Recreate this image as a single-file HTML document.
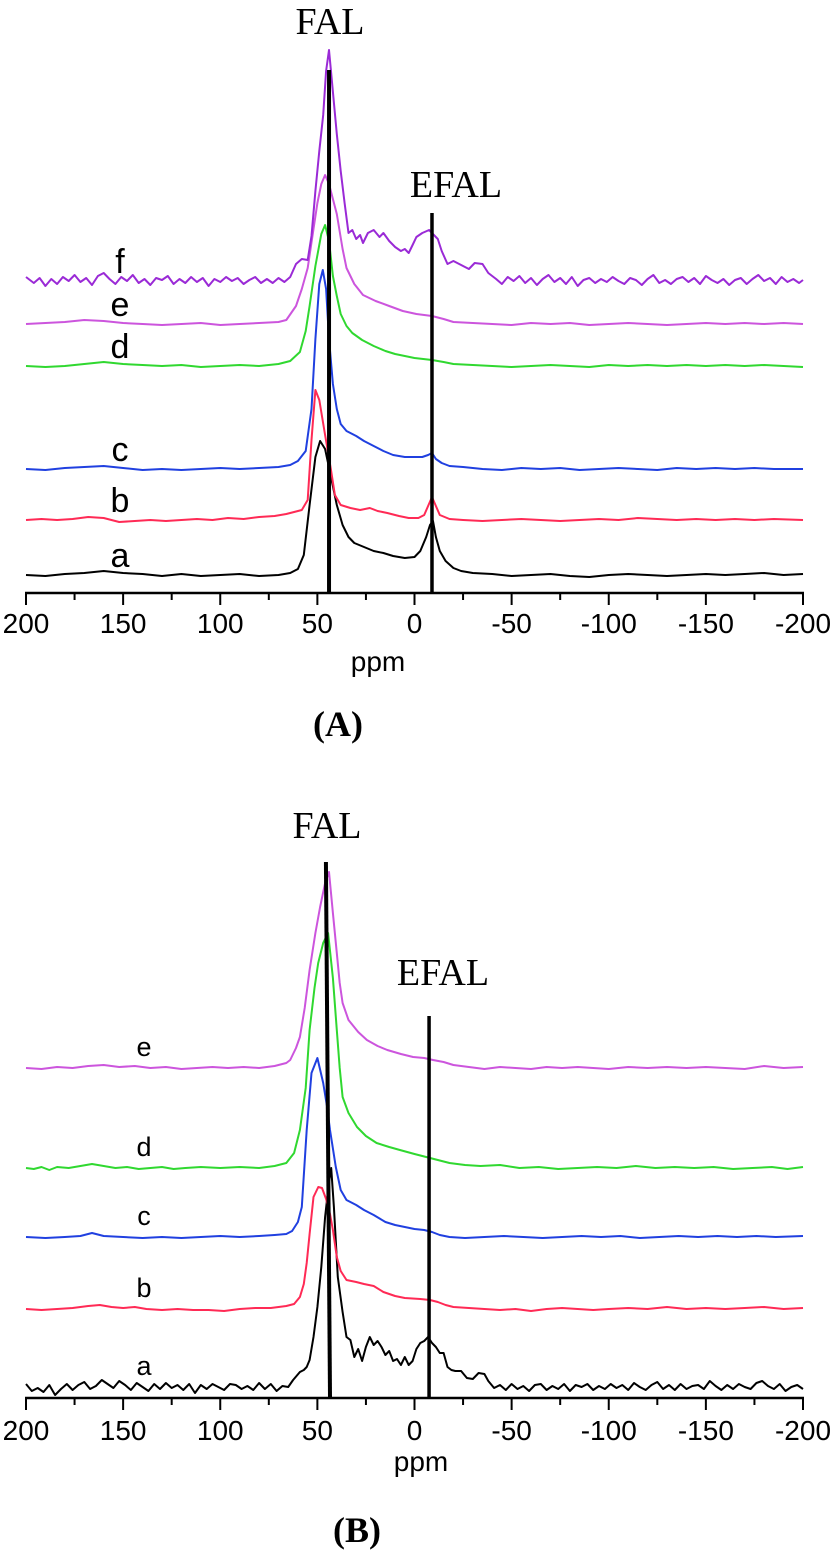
<!DOCTYPE html>
<html><head><meta charset="utf-8"><style>
html,body{margin:0;padding:0;background:#fff;}
svg{display:block;}
.tk{font-family:"Liberation Sans",sans-serif;font-size:28px;fill:#000;}
.lb{font-family:"Liberation Sans",sans-serif;fill:#000;}
.sf{font-family:"Liberation Serif",serif;fill:#000;}
</style></head><body>
<svg id="chart" width="832" height="1551" viewBox="0 0 832 1551">
<g id="panelA"></g>
<g id="panelB"></g>
<text class="sf" x="330" y="34" font-size="38" text-anchor="middle">FAL</text>
<text class="sf" x="456" y="197" font-size="38" text-anchor="middle">EFAL</text>
<text class="lb" x="378" y="671" font-size="28" text-anchor="middle">ppm</text>
<text class="sf" x="338" y="736" font-size="36" font-weight="bold" text-anchor="middle">(A)</text>
<text class="sf" x="327" y="838" font-size="38" text-anchor="middle">FAL</text>
<text class="sf" x="443" y="985" font-size="38" text-anchor="middle">EFAL</text>
<text class="lb" x="421" y="1471" font-size="28" text-anchor="middle">ppm</text>
<text class="sf" x="357" y="1542" font-size="36" font-weight="bold" text-anchor="middle">(B)</text>
</svg>
<script>
const tickValues = [200,150,100,50,0,-50,-100,-150,-200];
const minorTicks = [175,125,75,25,-25,-75,-125,-175];
const seriesNamesA = ["a","b","c","d","e","f"];
const seriesNamesB = ["a","b","c","d","e"];
const baselinesA = [575,520,469,366,324,281];
const baselinesB = [1387,1309,1237,1168,1068];
const linesA = [[44,44,70],[-9,-9,213]];
const linesB = [[45.6,43.5,862],[-7.5,-7.5,1016]];

const Aa = [[200,0],[190,-1],[180,1],[170,2],[160,4],[150,2],[140,1],[130,-1],[120,1],[110,-1],[100,0],[90,1],[80,-1],[70,0],[64,2],[60,6],[57,20],[54,70],[51,118],[48.6,134],[46,126],[43,98],[40,70],[37,50],[34,38],[31,32],[26,28],[21,24],[16,22],[11,19],[5,17],[0,18],[-3,24],[-6,38],[-8,50],[-9.5,54],[-11,38],[-13,24],[-16,14],[-20,7],[-24,4],[-30,2],[-40,1],[-50,-1],[-60,0],[-70,1],[-80,-1],[-90,-2],[-100,0],[-110,1],[-120,0],[-130,-1],[-140,0],[-150,1],[-160,0],[-170,1],[-180,2],[-190,0],[-200,1]];
const Ab = [[200,0],[192,1],[184,0],[176,1],[168,3],[160,2],[152,-2],[144,-1],[136,0],[128,-1],[120,0],[112,1],[104,0],[96,2],[88,1],[80,3],[72,4],[66,6],[62,8],[58,10],[55,20],[53,80],[51,130],[49,120],[46,85],[43,50],[41,25],[38,15],[33,12],[28,10],[23,12],[19,9],[14,7],[8,4],[3,2],[-2,2],[-5,5],[-7,14],[-9,23],[-11,14],[-13,5],[-18,1],[-25,0],[-35,-1],[-45,0],[-55,1],[-65,0],[-75,-1],[-85,0],[-95,1],[-105,0],[-115,2],[-125,1],[-135,0],[-145,1],[-155,0],[-165,1],[-175,0],[-185,1],[-200,0]];
const Ac = [[200,0],[190,-1],[180,1],[170,2],[160,3],[150,1],[140,-1],[130,0],[120,-1],[110,0],[100,1],[90,0],[80,1],[70,2],[64,4],[60,8],[56,18],[53,60],[51,130],[49,185],[47.2,199],[45.5,180],[44,130],[42,85],[40,60],[38,45],[35,38],[30,33],[26,28],[21,23],[16,18],[11,14],[5,12],[0,12],[-4,12],[-7,14],[-9,16],[-11,10],[-14,6],[-18,3],[-25,2],[-35,0],[-45,-1],[-55,1],[-65,0],[-75,1],[-85,-1],[-95,0],[-105,1],[-115,0],[-125,-1],[-135,1],[-145,0],[-155,1],[-165,0],[-175,1],[-185,0],[-200,0]];
const Ad = [[200,0],[190,-1],[180,0],[170,2],[160,4],[150,2],[140,1],[130,0],[120,1],[110,-1],[100,0],[90,1],[80,0],[70,2],[64,5],[59,14],[56,35],[54,60],[51,100],[48,132],[46,141],[44,125],[42,90],[40,70],[38,52],[35,40],[32,33],[27,26],[21,20],[15,15],[10,12],[5,10],[0,8],[-9,6],[-15,4],[-20,2],[-30,1],[-40,0],[-50,-1],[-60,0],[-70,1],[-80,0],[-90,-1],[-100,1],[-110,0],[-120,1],[-130,0],[-140,1],[-150,0],[-160,1],[-170,0],[-180,1],[-190,0],[-200,-1]];
const Ae = [[200,0],[190,1],[180,2],[170,4],[160,3],[150,1],[140,0],[130,-1],[120,0],[110,1],[100,-1],[90,0],[80,1],[70,2],[66,4],[61,18],[58,35],[55,56],[52,95],[50,121],[48,140],[46,149],[44,140],[42,125],[40,110],[37,75],[35,56],[31,40],[26.5,29],[20,23],[13,18],[6,13],[-1,10],[-9,8],[-15,5],[-20,2],[-30,1],[-40,0],[-50,-1],[-60,1],[-70,0],[-80,1],[-90,-1],[-100,0],[-110,1],[-120,0],[-130,-1],[-140,0],[-150,1],[-160,0],[-170,1],[-180,0],[-190,1],[-200,0]];
const Af = [[200,4],[196,-2],[193,3],[190,-5],[187,2],[184,-3],[181,4],[178,0],[175,6],[172,-1],[169,3],[166,-4],[163,5],[160,8],[157,2],[154,-3],[151,4],[148,0],[145,6],[142,-2],[139,2],[136,-4],[133,3],[130,1],[127,5],[124,-3],[121,2],[118,-2],[115,4],[112,-1],[109,3],[106,-5],[103,2],[100,-1],[97,4],[94,0],[91,3],[88,-3],[85,1],[82,4],[79,-2],[76,2],[73,-2],[70,3],[67,-1],[64,4],[61,17],[58,22],[55,21],[53,45],[51,90],[49,130],[47,166],[45.5,210],[44,231],[42.5,200],[40,147],[38,110],[36,78],[34,48],[32,51],[30,42],[28,46],[26.5,38],[24,48],[21,51],[18,44],[16,48],[13,40],[10,34],[7,30],[5,32],[3,28],[1,36],[-1,44],[-4,48],[-7.5,51],[-10,46],[-12,42],[-14,30],[-17,17],[-20,20],[-23,17],[-26,14],[-28,12],[-31,18],[-35,17],[-38,8],[-42,2],[-45,-3],[-48,4],[-51,0],[-54,5],[-57,-2],[-60,3],[-63,-4],[-66,2],[-69,6],[-72,-1],[-75,3],[-78,-3],[-81,4],[-84,-5],[-87,1],[-90,3],[-93,-2],[-96,2],[-99,-1],[-102,4],[-105,0],[-108,-3],[-111,3],[-114,1],[-117,-4],[-120,2],[-123,6],[-126,-2],[-129,1],[-132,-3],[-135,2],[-138,4],[-141,-1],[-144,3],[-147,-3],[-150,5],[-153,1],[-156,-2],[-159,2],[-162,-4],[-165,1],[-168,3],[-171,-3],[-174,2],[-177,6],[-180,0],[-183,3],[-186,-3],[-189,4],[-192,-1],[-195,2],[-198,-2],[-200,1]];

const Ba = [[200,3],[197,-4],[194,-1],[191,-5],[188,2],[185,-8],[182,-2],[179,3],[176,-3],[173,2],[170,5],[167,-2],[164,1],[161,7],[158,3],[155,-1],[152,6],[149,2],[146,-3],[143,4],[140,0],[137,-4],[134,3],[131,-2],[128,4],[125,-1],[122,2],[119,-3],[116,3],[113,-6],[110,2],[107,-2],[104,3],[101,0],[98,-3],[95,3],[92,2],[89,-2],[86,1],[83,-3],[80,4],[77,-2],[74,3],[71,-4],[68,1],[65,0],[62.5,7],[59,15],[57,17],[55.5,20],[54,27],[52,50],[50,80],[48,120],[46,170],[44,205],[42.9,219],[41.5,180],[39.5,110],[37,75],[35,50],[33,47],[31,30],[29,38],[27,26],[25,40],[23,50],[21,42],[19,46],[17,40],[15,32],[13,36],[11,26],[9,28],[7,22],[5,30],[3,22],[1,26],[-1,38],[-3,44],[-5,46],[-7,50],[-9,44],[-11,40],[-13,34],[-15,34],[-17,20],[-19,17],[-21,16],[-24,16],[-27,9],[-30,8],[-33,14],[-36,13],[-38,6],[-41,-1],[-44,2],[-47,-3],[-50,3],[-53,-2],[-56,1],[-59,-4],[-62,2],[-65,3],[-68,-3],[-71,1],[-74,-2],[-77,3],[-80,-4],[-83,2],[-86,0],[-89,3],[-92,-3],[-95,1],[-98,-2],[-101,3],[-104,-1],[-107,2],[-110,-3],[-113,4],[-116,0],[-119,-3],[-122,2],[-125,5],[-128,-2],[-131,2],[-134,-3],[-137,3],[-140,-2],[-143,1],[-146,2],[-149,-2],[-152,6],[-155,1],[-158,-3],[-161,2],[-164,-2],[-167,3],[-170,0],[-173,-2],[-176,4],[-179,6],[-182,1],[-185,-2],[-188,3],[-191,-4],[-194,0],[-197,2],[-200,-2]];
const Bb = [[200,0],[192,-1],[184,0],[176,1],[168,3],[162,4],[156,2],[150,1],[144,2],[138,0],[130,-1],[122,0],[114,-1],[106,-1],[98,-2],[90,0],[82,1],[74,1],[66,3],[62,5],[59,12],[57,25],[55.5,46],[54,75],[52,112],[49.5,122],[47.6,121],[45.5,110],[43.5,95],[42,79],[40,52],[38,38],[35,29],[30,27],[26,25],[21,23],[16,17],[10,13],[5,11],[-3,10],[-8,9],[-12,7],[-16,4],[-20,2],[-28,1],[-36,0],[-44,-1],[-52,0],[-60,-2],[-68,0],[-76,1],[-84,0],[-92,-1],[-100,0],[-110,1],[-120,0],[-130,2],[-140,0],[-150,1],[-160,0],[-170,1],[-180,2],[-190,0],[-200,1]];
const Bc = [[200,0],[190,-1],[180,0],[172,1],[166,4],[160,1],[150,0],[140,-1],[130,0],[120,-1],[110,0],[100,1],[90,0],[80,1],[72,2],[66,3],[63,6],[60,15],[58,30],[55.5,107],[53,164],[50,179],[47,154],[45,130],[43.5,107],[40.5,70],[38,47],[35,37],[30,32],[26,27],[21,22],[15,15],[10,12],[5,10],[0,8],[-5,7],[-9,5],[-13,2],[-18,0],[-26,-1],[-36,0],[-46,1],[-56,0],[-66,-1],[-76,0],[-86,1],[-96,0],[-106,1],[-116,-1],[-126,0],[-136,1],[-146,0],[-156,1],[-166,0],[-176,1],[-186,0],[-200,1]];
const Bd = [[200,0],[196,-1],[192,1],[188,-2],[184,1],[178,0],[172,2],[166,4],[160,2],[154,0],[148,1],[142,-1],[136,0],[130,1],[124,-1],[118,0],[110,1],[100,0],[90,1],[80,0],[72,2],[66,5],[62,15],[59,38],[56,80],[54,138],[51.5,180],[49.6,205],[47,225],[44.5,235],[42,190],[40,138],[38.5,100],[37,71],[34,55],[29.6,41],[25,32],[19.5,25],[13,21],[7.5,18],[0,14],[-6,11],[-12,8],[-18,5],[-26,3],[-34,2],[-44,3],[-54,0],[-64,1],[-74,-1],[-84,0],[-94,1],[-104,0],[-114,2],[-124,0],[-134,1],[-144,0],[-154,1],[-164,-1],[-174,0],[-184,1],[-192,-1],[-200,1]];
const Be = [[200,0],[192,-1],[184,1],[176,0],[168,2],[160,3],[152,1],[144,2],[136,0],[128,1],[120,-1],[112,0],[104,1],[96,0],[88,1],[80,0],[72,2],[66,5],[64,8],[61,20],[59,31],[56.5,60],[54,98],[51,135],[48.6,161],[46,185],[44,196],[42,155],[40,115],[38.5,85],[37,65],[34,48],[29,36],[24.5,28],[19,22],[14,18],[7,14],[0.7,11],[-5,10],[-9.5,8],[-15,6],[-20,3],[-28,1],[-36,-1],[-44,1],[-52,0],[-60,-1],[-68,1],[-76,0],[-84,1],[-92,0],[-100,-1],[-110,1],[-120,0],[-130,1],[-140,0],[-150,1],[-160,0],[-170,-1],[-180,2],[-190,0],[-200,1]];

const NS = "http://www.w3.org/2000/svg";
const X0 = 26, X1 = 803;
function xs(ppm){ return X0 + (200 - ppm) * (X1 - X0) / 400; }
function mk(tag, attrs, parent){ const e = document.createElementNS(NS, tag); for (const k in attrs) e.setAttribute(k, attrs[k]); parent.appendChild(e); return e; }

function drawPanel(g, axisY, labelY, series, names, baselines, colors, lines, labelSize, labelX, labelOff){
  const ax = mk("line", {x1:X0-1, x2:X1+1, y1:axisY, y2:axisY, stroke:"#000", "stroke-width":2.5}, g);
  
  
  tickValues.forEach(v => {
    const t = mk("line", {x1:xs(v), x2:xs(v), y1:axisY, y2:axisY+12, stroke:"#000", "stroke-width":2}, g);
    
    
    const tx = mk("text", {x:xs(v), y:labelY, "text-anchor":"middle", class:"tk"}, g);
    tx.textContent = String(v);
    
    
  });
  minorTicks.forEach(v => {
    const t = mk("line", {x1:xs(v), x2:xs(v), y1:axisY, y2:axisY+7, stroke:"#000", "stroke-width":2}, g);
    
    
  });
  series.forEach((s, i) => {
    const d = s.map((p, j) => (j ? "L" : "M") + xs(p[0]).toFixed(1) + " " + (baselines[i] - p[1]).toFixed(1)).join(" ");
    const path = mk("path", {d:d, fill:"none", stroke:colors[i], "stroke-width":2, "stroke-linejoin":"round"}, g);
    
    
    const lb = mk("text", {x:labelX, y:baselines[i] - labelOff, "text-anchor":"middle", class:"lb", "font-size":labelSize}, g);
    lb.textContent = names[i];
    
    
  });
  lines.forEach((l, i) => {
    const ln = mk("line", {x1:xs(l[0]), y1:l[2], x2:xs(l[1]), y2:axisY - 1, stroke:"#000", "stroke-width": i === 0 ? 4 : 3.5}, g);
    
    
  });
}
drawPanel(document.getElementById("panelA"), 593, 633, [Aa,Ab,Ac,Ad,Ae,Af], seriesNamesA, baselinesA,
  ["#000000","#ff2a55","#2040e0","#30d830","#cc55dd","#9a2ad6"], linesA, 34, 120, 8);
drawPanel(document.getElementById("panelB"), 1398, 1440, [Ba,Bb,Bc,Bd,Be], seriesNamesB, baselinesB,
  ["#000000","#ff2a55","#2040e0","#30d830","#cc55dd"], linesB, 27, 144, 12);
</script>
</body></html>
